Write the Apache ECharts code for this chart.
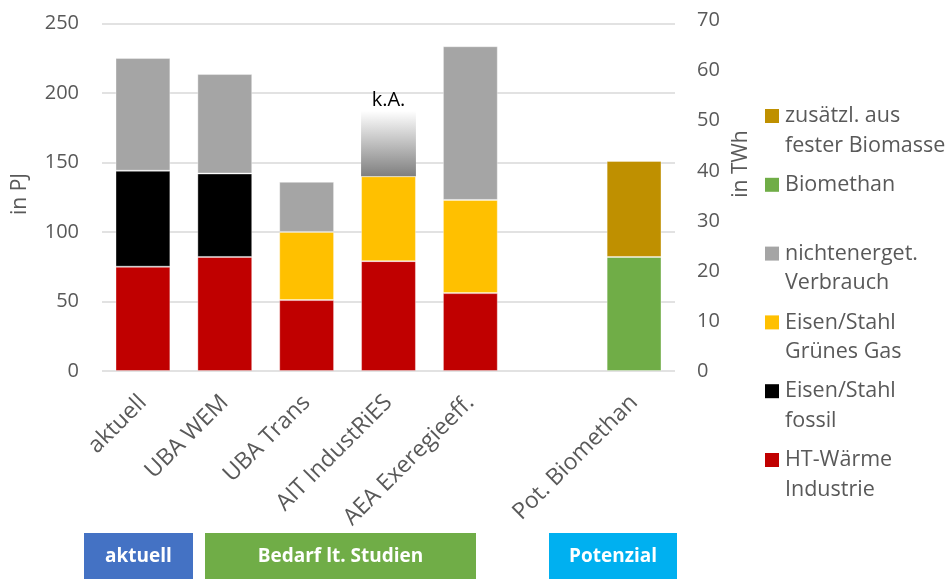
<!DOCTYPE html>
<html>
<head>
<meta charset="utf-8">
<script src="https://cdn.jsdelivr.net/npm/echarts@6/dist/echarts.min.js"></script>
<style>
  html, body { margin: 0; padding: 0; background: #ffffff; }
  #chart { width: 952px; height: 579px; }
</style>
</head>
<body>
<div id="chart"></div>
<script>
// Kategorien (die leere Kategorie trennt Bedarf und Potenzial)
const categories = ['aktuell', 'UBA WEM', 'UBA Trans', 'AIT IndustRiES', 'AEA Exeregieeff.', '', 'Pot. Biomethan'];

// Werte in PJ, von unten nach oben gestapelt
const htWaerme      = [75, 82, 51, 79, 56, null, null];
const stahlFossil   = [69, 60, null, null, null, null, null];
const stahlGruen    = [null, null, 49, 61, 67, null, null];
const nichtEnerget  = [81, 71.5, 36, null, 110.5, null, null];
const keineAngabe   = [null, null, null, 47, null, null, null];
const biomethan     = [null, null, null, null, null, null, 82];
const festeBiomasse = [null, null, null, null, null, null, 69];

// Achsen
const pjTicks  = [0, 50, 100, 150, 200, 250];
const twhTicks = [0, 10, 20, 30, 40, 50, 60, 70];

// Legendentexte (oben nach unten)
const legendItems = [
  { name: 'zusätzl. aus\nfester Biomasse', key: 'feste' },
  { name: 'Biomethan', key: 'biomethan' },
  { name: 'nichtenerget.\nVerbrauch', key: 'nicht' },
  { name: 'Eisen/Stahl\nGrünes Gas', key: 'gruen' },
  { name: 'Eisen/Stahl\nfossil', key: 'fossil' },
  { name: 'HT-Wärme\nIndustrie', key: 'ht' }
];

// Gruppenbeschriftungen unter der Achse
const groupBoxes = [
  { text: 'aktuell', key: 'aktuell' },
  { text: 'Bedarf lt. Studien', key: 'bedarf' },
  { text: 'Potenzial', key: 'potenzial' }
];

const colors = {
  ht: '#C00000', fossil: '#000000', gruen: '#FFC000', nicht: '#A5A5A5',
  biomethan: '#70AD47', feste: '#BF9000'
};
const boxStyle = {
  aktuell:   { x: 84,  w: 109, color: '#4472C4' },
  bedarf:    { x: 205, w: 271, color: '#70AD47' },
  potenzial: { x: 549, w: 128, color: '#00B0F0' }
};

const FONT = '"Open Sans", sans-serif';
const TXT = '#595959';

const chart = echarts.init(document.getElementById('chart'), null, { renderer: 'canvas' });

const barBorder = { borderColor: 'rgba(255,255,255,0.35)', borderWidth: 1 };

function barSeries(name, data, color) {
  return {
    name, type: 'bar', stack: 'total', data,
    barWidth: '67%',
    itemStyle: Object.assign({ color }, barBorder),
    emphasis: { disabled: true }
  };
}

const series = [
  barSeries('HT-Wärme Industrie', htWaerme, colors.ht),
  barSeries('Eisen/Stahl fossil', stahlFossil, colors.fossil),
  barSeries('Eisen/Stahl Grünes Gas', stahlGruen, colors.gruen),
  barSeries('nichtenerget. Verbrauch', nichtEnerget, colors.nicht),
  {
    name: 'k.A.', type: 'bar', stack: 'total', data: keineAngabe, barWidth: '67%',
    itemStyle: {
      color: new echarts.graphic.LinearGradient(0, 0, 0, 1, [
        { offset: 0, color: '#ffffff' },
        { offset: 1, color: '#7f7f7f' }
      ])
    },
    label: {
      show: true, position: 'top', distance: 1, formatter: 'k.A.',
      color: '#000000', fontFamily: FONT, fontSize: 20
    },
    emphasis: { disabled: true }
  },
  barSeries('Biomethan', biomethan, colors.biomethan),
  barSeries('zusätzl. aus fester Biomasse', festeBiomasse, colors.feste)
];

// Legende und Zusatzbeschriftungen
const graphics = [];
const legendTop = 116, legendStep = 68.8, lineH = 29.5;
legendItems.forEach((it, i) => {
  const cy = legendTop + i * legendStep;
  graphics.push({
    type: 'rect', shape: { x: 765, y: cy - 7, width: 14, height: 14 },
    style: { fill: colors[it.key] }
  });
  graphics.push({
    type: 'text', x: 785, y: cy - lineH / 2,
    style: {
      text: it.name, fill: TXT, font: '21.5px ' + FONT,
      lineHeight: lineH, verticalAlign: 'top', align: 'left'
    }
  });
});
groupBoxes.forEach(b => {
  const s = boxStyle[b.key];
  graphics.push({
    type: 'rect', shape: { x: s.x, y: 533, width: s.w, height: 46 },
    style: { fill: s.color }
  });
  graphics.push({
    type: 'text', x: s.x + s.w / 2, y: 557,
    style: {
      text: b.text, fill: '#ffffff', font: 'bold 19px ' + FONT,
      align: 'center', verticalAlign: 'middle'
    }
  });
});
graphics.push({
  type: 'text', x: 20, y: 194, rotation: Math.PI / 2,
  style: { text: 'in PJ', fill: TXT, font: '21px ' + FONT, align: 'center', verticalAlign: 'middle' }
});
graphics.push({
  type: 'text', x: 741, y: 164, rotation: Math.PI / 2,
  style: { text: 'in TWh', fill: TXT, font: '21px ' + FONT, align: 'center', verticalAlign: 'middle' }
});

const option = {
  animation: false,
  backgroundColor: '#ffffff',
  grid: [
    { left: 102, right: 277, top: 23.3, bottom: 208 },
    { left: 102, right: 277, top: 20.7, bottom: 208 }
  ],
  xAxis: [
    {
      type: 'category', data: categories, gridIndex: 0,
      axisLine: { show: false }, axisTick: { show: false },
      axisLabel: {
        interval: 0, rotate: 45, margin: 28, color: TXT,
        fontFamily: FONT, fontSize: 23
      }
    },
    {
      type: 'category', data: categories, gridIndex: 1, show: false
    }
  ],
  yAxis: [
    {
      type: 'value', gridIndex: 0, min: pjTicks[0], max: pjTicks[pjTicks.length - 1],
      interval: pjTicks[1] - pjTicks[0],
      axisLine: { show: false }, axisTick: { show: false },
      axisLabel: { margin: 23, color: TXT, fontFamily: FONT, fontSize: 20 },
      splitLine: { lineStyle: { color: '#D9D9D9', width: 1.5 } }
    },
    {
      type: 'value', gridIndex: 1, position: 'right',
      min: twhTicks[0], max: twhTicks[twhTicks.length - 1],
      interval: twhTicks[1] - twhTicks[0],
      axisLine: { show: false }, axisTick: { show: false },
      splitLine: { show: false },
      axisLabel: { margin: 22, color: TXT, fontFamily: FONT, fontSize: 20, align: 'left' }
    }
  ],
  series,
  graphic: graphics
};

chart.setOption(option);
</script>
</body>
</html>
